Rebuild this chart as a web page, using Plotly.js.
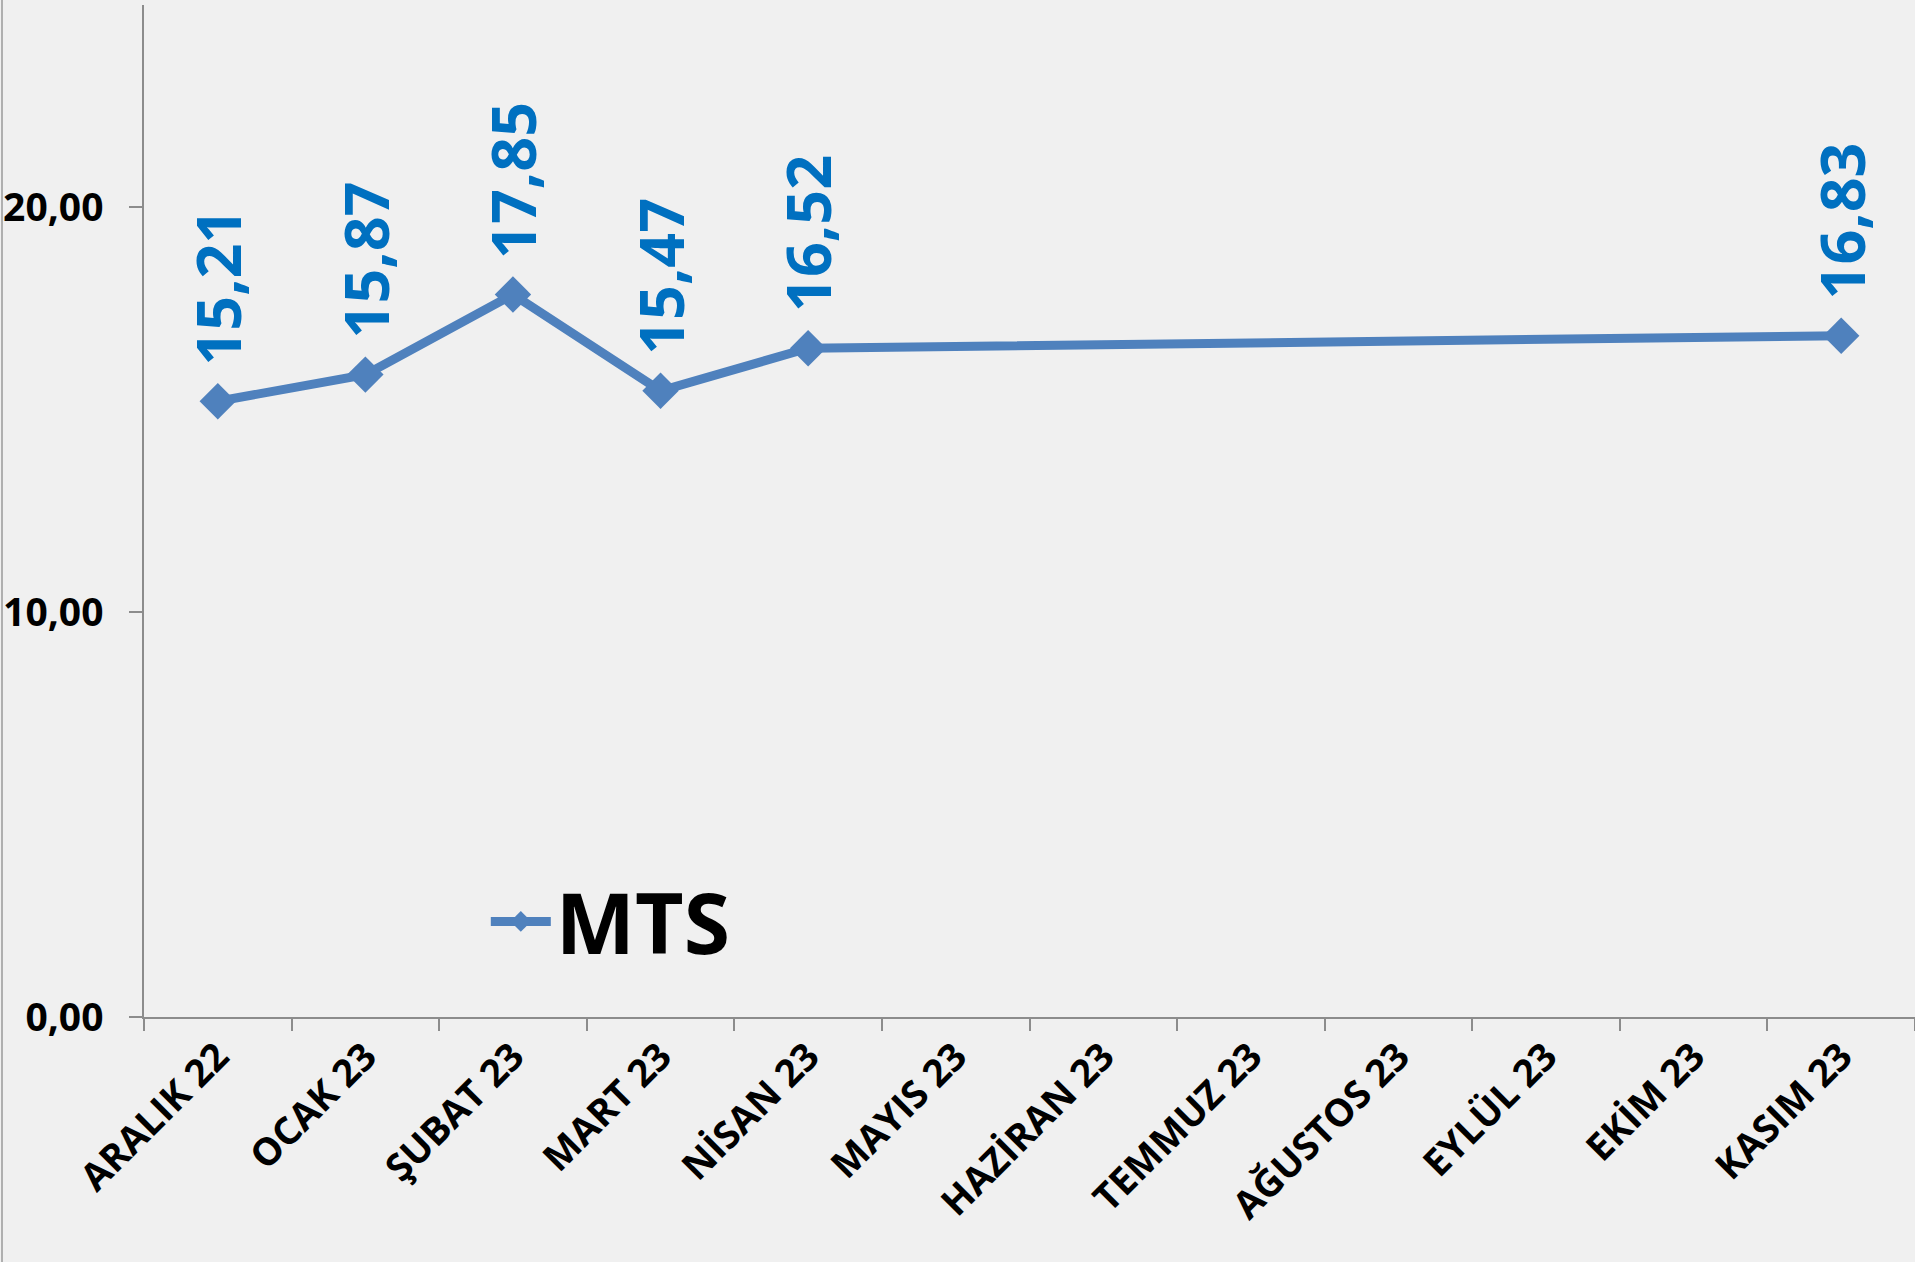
<!DOCTYPE html>
<html>
<head>
<meta charset="utf-8">
<script src="https://cdn.plot.ly/plotly-3.0.1.min.js"></script>
<style>
  html, body { margin: 0; padding: 0; background: #f0f0f0; }
  #chart { width: 1915px; height: 1262px; }
</style>
</head>
<body>
<div id="chart"></div>
<script>
const categories = ["ARALIK 22", "OCAK 23", "ŞUBAT 23", "MART 23", "NİSAN 23", "MAYIS 23",
                    "HAZİRAN 23", "TEMMUZ 23", "AĞUSTOS 23", "EYLÜL 23", "EKİM 23", "KASIM 23"];
const mtsValues = [15.21, 15.87, 17.85, 15.47, 16.52, null, null, null, null, null, null, 16.83];
const seriesName = "MTS";
const yTickValues = [0, 10, 20];

const fontFamily = "'Open Sans', 'Noto Sans', 'DejaVu Sans', sans-serif";
const lineColor = "#4F81BD";
const labelColor = "#0070C0";

const trace = {
  type: "scatter",
  mode: "lines+markers",
  name: seriesName,
  x: categories,
  y: mtsValues,
  connectgaps: true,
  line: { color: lineColor, width: 9 },
  marker: { symbol: "diamond", size: 28, color: lineColor }
};

const annotations = [];
categories.forEach((c, i) => {
  const v = mtsValues[i];
  if (v === null) return;
  annotations.push({
    x: c, y: v, xref: "x", yref: "y",
    text: v.toFixed(2).replace(".", ","),
    showarrow: false,
    textangle: -90,
    xanchor: "center",
    yanchor: "bottom",
    yshift: 34,
    font: { family: fontFamily, size: 61, color: labelColor, weight: "bold" }
  });
});

const layout = {
  width: 1915,
  height: 1262,
  margin: { l: 144, r: 0, t: 5, b: 245 },
  paper_bgcolor: "#f0f0f0",
  plot_bgcolor: "#f0f0f0",
  separators: ",.",
  showlegend: true,
  legend: {
    x: 0.193, y: 0.094, xanchor: "left", yanchor: "middle",
    bgcolor: "rgba(0,0,0,0)",
    itemwidth: 60,
    font: { family: fontFamily, size: 84, color: "#000000", weight: "bold" }
  },
  xaxis: {
    type: "category",
    tickson: "boundaries",
    ticks: "outside",
    ticklen: 12,
    tickcolor: "#8c8c8c",
    tickwidth: 1.5,
    showline: true,
    linecolor: "#8c8c8c",
    linewidth: 1.5,
    showgrid: false,
    tickangle: -45,
    tickfont: { family: fontFamily, size: 38, color: "#000000", weight: "bold" },
    range: [-0.5, 11.5]
  },
  yaxis: {
    range: [0, 25],
    tickvals: yTickValues,
    tickformat: ".2f",
    ticks: "outside",
    ticklen: 13,
    tickcolor: "#8c8c8c",
    tickwidth: 1.5,
    showline: true,
    linecolor: "#8c8c8c",
    linewidth: 1.5,
    showgrid: false,
    zeroline: false,
    ticklabelstandoff: 18,
    tickfont: { family: fontFamily, size: 39, color: "#000000", weight: "bold" }
  },
  shapes: [{
    type: "line", xref: "paper", yref: "paper",
    x0: -142 / 1771, x1: -142 / 1771, y0: -245 / 1012, y1: 1 + 5 / 1012,
    line: { color: "#9a9a9a", width: 1.5 }
  }],
  annotations: annotations
};

Plotly.newPlot("chart", [trace], layout, { displayModeBar: false, responsive: false });
</script>
</body>
</html>
